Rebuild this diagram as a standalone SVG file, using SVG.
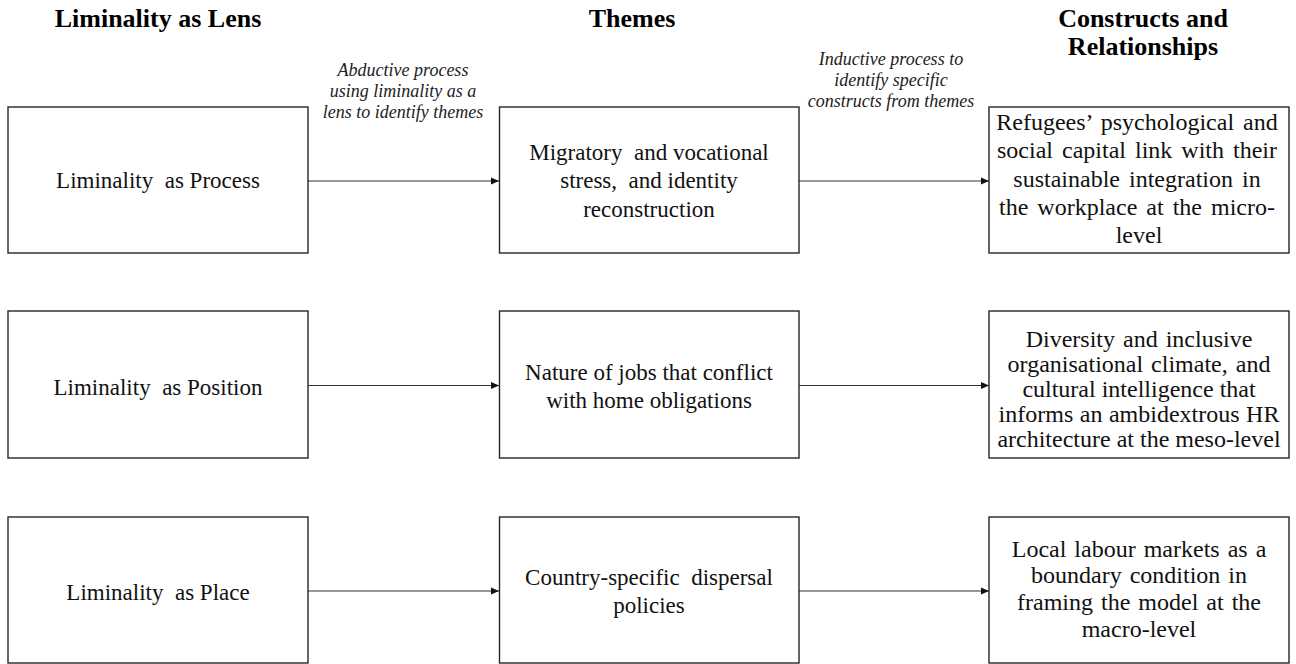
<svg xmlns="http://www.w3.org/2000/svg" width="1296" height="664" viewBox="0 0 1296 664">
<defs>
<style>
.hd{font-family:"Liberation Serif","Times New Roman",serif;font-weight:bold;font-size:26px;fill:#000;text-anchor:middle}
.lb{font-family:"Liberation Serif","Times New Roman",serif;font-style:italic;font-size:18px;fill:#222;text-anchor:middle}
.tx{font-family:"Liberation Serif","Times New Roman",serif;font-size:23px;fill:#111;text-anchor:middle;white-space:pre}
.tr{font-size:24px;word-spacing:2px}
.bx{fill:#fff;stroke:#262626;stroke-width:1.4}
.ar{stroke:#333;stroke-width:1.2;fill:none;marker-end:url(#ah)}
</style>
<marker id="ah" markerWidth="8" markerHeight="8" refX="8" refY="4" orient="auto" markerUnits="userSpaceOnUse">
<path d="M0,0.5 L8,4 L0,7.5 z" fill="#111"/>
</marker>
</defs>
<rect width="1296" height="664" fill="#fff"/>
<g id="headers">
<text class="hd" x="158" y="27">Liminality as Lens</text>
<text class="hd" x="632" y="27">Themes</text>
<text class="hd" x="1143" y="27">Constructs and</text>
<text class="hd" x="1143" y="55">Relationships</text>
</g>
<g id="connectors">
<line class="ar" x1="308" y1="181" x2="499" y2="181"/>
<line class="ar" x1="799" y1="181" x2="989" y2="181"/>
<line class="ar" x1="308" y1="385.5" x2="499" y2="385.5"/>
<line class="ar" x1="799" y1="385.5" x2="989" y2="385.5"/>
<line class="ar" x1="308" y1="591" x2="499" y2="591"/>
<line class="ar" x1="799" y1="591" x2="989" y2="591"/>
<text class="lb" x="403" y="76">Abductive process</text>
<text class="lb" x="403" y="97">using liminality as a</text>
<text class="lb" x="403" y="118">lens to identify themes</text>
<text class="lb" x="891" y="65">Inductive process to</text>
<text class="lb" x="891" y="86">identify specific</text>
<text class="lb" x="891" y="107">constructs from themes</text>
</g>
<g id="lens-process">
<rect class="bx" x="8" y="107" width="300" height="146"/>
<text class="tx" x="158" y="188">Liminality  as Process</text>
</g>
<g id="theme-stress">
<rect class="bx" x="499.5" y="107" width="299.5" height="146"/>
<text class="tx" x="649" y="160">Migratory  and vocational</text>
<text class="tx" x="649" y="188">stress,  and identity</text>
<text class="tx" x="649" y="217">reconstruction</text>
</g>
<g id="construct-micro">
<rect class="bx" x="989" y="107" width="300" height="146"/>
<text class="tx tr" x="1137" y="130" style="word-spacing:3px">Refugees’ psychological and</text>
<text class="tx tr" x="1137" y="158" style="word-spacing:3px">social capital link with their</text>
<text class="tx tr" x="1137" y="187" style="word-spacing:3px">sustainable integration in</text>
<text class="tx tr" x="1137" y="215" style="word-spacing:3px">the workplace at the micro-</text>
<text class="tx tr" x="1139" y="243">level</text>
</g>
<g id="lens-position">
<rect class="bx" x="8" y="311" width="300" height="147"/>
<text class="tx" x="158" y="395">Liminality  as Position</text>
</g>
<g id="theme-jobs">
<rect class="bx" x="499.5" y="311" width="299.5" height="147"/>
<text class="tx" x="649" y="380">Nature of jobs that conflict</text>
<text class="tx" x="649" y="408">with home obligations</text>
</g>
<g id="construct-meso">
<rect class="bx" x="989" y="311" width="300" height="147"/>
<text class="tx tr" x="1139" y="347">Diversity and inclusive</text>
<text class="tx tr" x="1139" y="372">organisational climate, and</text>
<text class="tx tr" x="1139" y="397" style="word-spacing:0">cultural intelligence that</text>
<text class="tx tr" x="1139" y="422" style="word-spacing:0.5px">informs an ambidextrous HR</text>
<text class="tx tr" x="1139" y="447" style="word-spacing:0">architecture at the meso-level</text>
</g>
<g id="lens-place">
<rect class="bx" x="8" y="517" width="300" height="146"/>
<text class="tx" x="158" y="600">Liminality  as Place</text>
</g>
<g id="theme-dispersal">
<rect class="bx" x="499.5" y="517" width="299.5" height="146"/>
<text class="tx" x="649" y="585">Country-specific  dispersal</text>
<text class="tx" x="649" y="613">policies</text>
</g>
<g id="construct-macro">
<rect class="bx" x="989" y="517" width="300" height="146"/>
<text class="tx tr" x="1139" y="557">Local labour markets as a</text>
<text class="tx tr" x="1139" y="583">boundary condition in</text>
<text class="tx tr" x="1139" y="610">framing the model at the</text>
<text class="tx tr" x="1139" y="637">macro-level</text>
</g>
</svg>
